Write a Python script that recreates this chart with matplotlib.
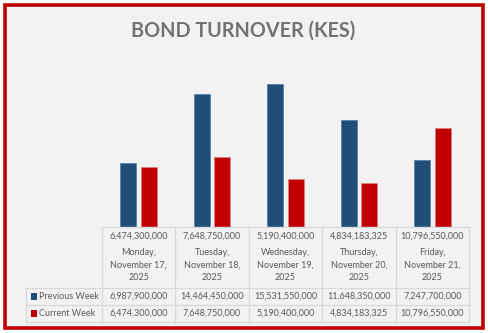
import matplotlib
matplotlib.use("Agg")
import matplotlib.pyplot as plt
from matplotlib.patches import Rectangle

plt.rcParams['font.family'] = ['Lato', 'DejaVu Sans']

categories = ["Monday,\nNovember 17,\n2025", "Tuesday,\nNovember 18,\n2025",
              "Wednesday,\nNovember 19,\n2025", "Thursday,\nNovember 20,\n2025",
              "Friday,\nNovember 21,\n2025"]
previous_week = [6987900000, 14464450000, 15531550000, 11648350000, 7247700000]
current_week = [6474300000, 7648750000, 5190400000, 4834183325, 10796550000]
series_names = ["Previous Week", "Current Week"]
colors = ["#1F4E79", "#C00000"]

W, H = 489, 333
fig = plt.figure(figsize=(W / 100, H / 100), dpi=100)
fig.patch.set_facecolor("white")

def fx(px):
    return px / W

def fy(py):
    return 1 - py / H

# frame
fig.patches.append(Rectangle((fx(5), fy(328)), fx(478), (323) / H, transform=fig.transFigure,
                             facecolor="#F2F2F2", edgecolor="#C00000", linewidth=2.6, zorder=-5))

fig.text(fx(243), fy(31), "BOND TURNOVER (KES)", ha="center", va="center",
         fontsize=14.2, fontweight="bold", color="#767171")

# bar axes
left, right = 102, 469
base, top = 227, 61.4
ax = fig.add_axes([fx(left), fy(base), fx(right - left), (base - top) / H])
ax.set_facecolor("none")
n = len(categories)
xs = list(range(n))
bw = 0.22
off = 0.14
ax.bar([x - off for x in xs], previous_week, width=bw, color=colors[0],
       edgecolor="#5B7FA6", linewidth=0.6)
ax.bar([x + off for x in xs], current_week, width=bw, color=colors[1],
       edgecolor="#E08080", linewidth=0.6)
ax.set_xlim(-0.5, n - 0.5)
ax.set_ylim(0, 18e9)
ax.axis("off")

# table axes
tleft, tbottom = 26, 322
unit = (right - left) / n
ax2 = fig.add_axes([fx(tleft), fy(tbottom), fx(right - tleft), (tbottom - base) / H])
ax2.set_facecolor("none")
xmin = -0.5 - (left - tleft) / unit
ax2.set_xlim(xmin, n - 0.5)
ax2.set_ylim(tbottom, base)
ax2.axis("off")
lc = "#D9D9D9"
lw = 1.0
ax2.plot([-0.5, n - 0.5], [base, base], color=lc, lw=lw, clip_on=False)
for yy in (288, 305, 322):
    ax2.plot([xmin, n - 0.5], [yy, yy], color=lc, lw=lw, clip_on=False)
for i in range(n + 1):
    ax2.plot([i - 0.5, i - 0.5], [base, 322], color=lc, lw=lw, clip_on=False)
ax2.plot([xmin, xmin], [288, 322], color=lc, lw=lw, clip_on=False)

tc = "#595959"
fs = 6.5
for i in range(n):
    ax2.text(i, 236.5, f"{current_week[i]:,}", ha="center", va="center", fontsize=fs, color=tc)
    ax2.text(i, 265, categories[i], ha="center", va="center", fontsize=fs, color=tc,
             linespacing=1.5)
    ax2.text(i, 296.5, f"{previous_week[i]:,}", ha="center", va="center", fontsize=fs, color=tc)
    ax2.text(i, 313.5, f"{current_week[i]:,}", ha="center", va="center", fontsize=fs, color=tc)

for j, (name, yy) in enumerate(zip(series_names, (296.5, 313.5))):
    sq = 6.5 / unit
    ax2.add_patch(Rectangle((xmin + 4.5 / unit, yy - 3.3), sq, 6.6, facecolor=colors[j],
                            edgecolor="none", clip_on=False))
    ax2.text(xmin + 13 / unit, yy, name, ha="left", va="center", fontsize=fs, color=tc)

fig.savefig("out.png", dpi=100)
